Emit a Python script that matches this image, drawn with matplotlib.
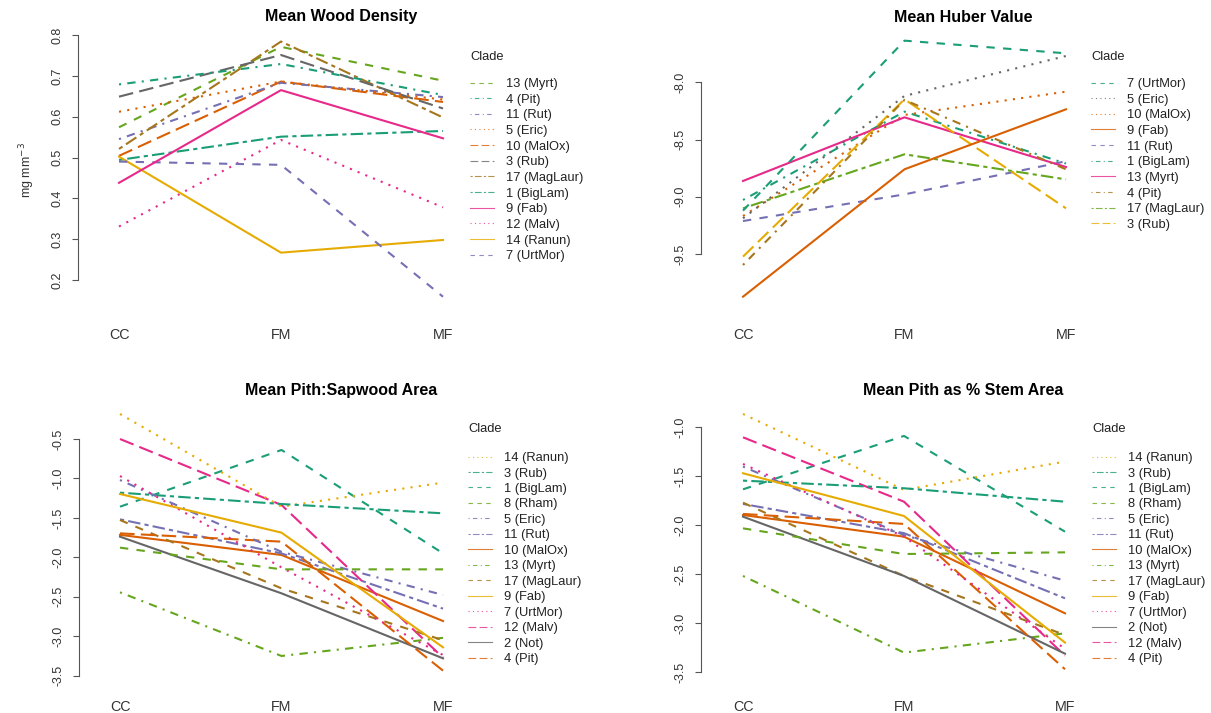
import matplotlib
matplotlib.use("Agg")
import matplotlib.pyplot as plt
from matplotlib.lines import Line2D

plt.rcParams['font.family'] = ['Liberation Sans', 'DejaVu Sans']

levels = ['CC', 'FM', 'MF']

# clade means at each site (CC, FM, MF)
wood_density = {
    '1 (BigLam)': [0.494, 0.551, 0.565],
    '10 (MalOx)': [0.504, 0.686, 0.636],
    '11 (Rut)': [0.545, 0.683, 0.648],
    '12 (Malv)': [0.331, 0.543, 0.378],
    '13 (Myrt)': [0.574, 0.771, 0.688],
    '14 (Ranun)': [0.502, 0.267, 0.298],
    '17 (MagLaur)': [0.521, 0.784, 0.598],
    '3 (Rub)': [0.649, 0.751, 0.620],
    '4 (Pit)': [0.679, 0.729, 0.653],
    '5 (Eric)': [0.612, 0.686, 0.642],
    '7 (UrtMor)': [0.490, 0.482, 0.159],
    '9 (Fab)': [0.438, 0.665, 0.547],
}

huber = {
    '1 (BigLam)': [-9.028, -8.256, -8.71],
    '10 (MalOx)': [-9.168, -8.285, -8.082],
    '11 (Rut)': [-9.212, -8.979, -8.69],
    '13 (Myrt)': [-8.862, -8.306, -8.74],
    '17 (MagLaur)': [-9.101, -8.629, -8.848],
    '3 (Rub)': [-9.523, -8.149, -9.101],
    '4 (Pit)': [-9.596, -8.154, -8.76],
    '5 (Eric)': [-9.188, -8.119, -7.770],
    '7 (UrtMor)': [-9.121, -7.636, -7.747],
    '9 (Fab)': [-9.873, -8.760, -8.236],
}

pith_sapwood = {
    '1 (BigLam)': [-1.358, -0.639, -1.949],
    '10 (MalOx)': [-1.715, -1.970, -2.807],
    '11 (Rut)': [-1.518, -1.95, -2.65],
    '12 (Malv)': [-0.500, -1.336, -3.271],
    '13 (Myrt)': [-2.443, -3.250, -3.02],
    '14 (Ranun)': [-0.183, -1.358, -1.053],
    '17 (MagLaur)': [-1.527, -2.393, -3.05],
    '2 (Not)': [-1.738, -2.456, -3.280],
    '3 (Rub)': [-1.180, -1.324, -1.442],
    '4 (Pit)': [-1.696, -1.801, -3.436],
    '5 (Eric)': [-1.020, -1.93, -2.477],
    '7 (UrtMor)': [-0.969, -2.127, -3.238],
    '8 (Rham)': [-1.877, -2.152, -2.152],
    '9 (Fab)': [-1.197, -1.687, -3.140],
}

pith_stem = {
    '1 (BigLam)': [-1.633, -1.088, -2.065],
    '10 (MalOx)': [-1.895, -2.116, -2.898],
    '11 (Rut)': [-1.782, -2.08, -2.745],
    '12 (Malv)': [-1.102, -1.759, -3.33],
    '13 (Myrt)': [-2.517, -3.299, -3.102],
    '14 (Ranun)': [-0.864, -1.639, -1.350],
    '17 (MagLaur)': [-1.769, -2.517, -3.119],
    '2 (Not)': [-1.912, -2.517, -3.31],
    '3 (Rub)': [-1.544, -1.622, -1.759],
    '4 (Pit)': [-1.884, -1.986, -3.469],
    '5 (Eric)': [-1.401, -2.10, -2.565],
    '7 (UrtMor)': [-1.374, -2.116, -3.26],
    '8 (Rham)': [-2.031, -2.293, -2.276],
    '9 (Fab)': [-1.469, -1.905, -3.197],
}

wd_ticks = [0.2, 0.3, 0.4, 0.5, 0.6, 0.7, 0.8]
hv_ticks = [-9.5, -9.0, -8.5, -8.0]
ps_ticks = [-3.5, -3.0, -2.5, -2.0, -1.5, -1.0, -0.5]
pst_ticks = [-3.5, -3.0, -2.5, -2.0, -1.5, -1.0]

# R Dark2 palette and lty 1..6
dark2 = ['#1B9E77', '#D95F02', '#7570B3', '#E7298A',
         '#66A61E', '#E6AB02', '#A6761D', '#666666']
r_lty = {1: '-', 2: (0, (4, 4)), 3: (0, (1, 3)), 4: (0, (1, 3, 4, 3)),
         5: (0, (7, 3)), 6: (0, (2, 2, 6, 2))}

W, H = 1211, 713
fig = plt.figure(figsize=(W / 100, H / 100), dpi=100)


def make_axes(left, right, top, bottom, x1px, x3px, yref):
    ax = fig.add_axes([left / W, 1 - bottom / H, (right - left) / W, (bottom - top) / H])
    ux = (x3px - x1px) / 2
    ax.set_xlim(1 - (x1px - left) / ux, 3 + (right - x3px) / ux)
    (va, pa), (vb, pb) = yref
    uy = (pb - pa) / (va - vb)
    ax.set_ylim(va - (bottom - pa) / uy, va + (pa - top) / uy)
    return ax


def interaction(ax, data, ticks, title, tpos, lpos, spacing):
    names = sorted(data)
    n = len(names)
    styles = {}
    for i, name in enumerate(names):
        lty = (n - i - 1) % 6 + 1
        styles[name] = (dark2[i % 8], r_lty[lty])
        ax.plot([1, 2, 3], data[name], color=dark2[i % 8], ls=r_lty[lty],
                lw=1.5, clip_on=False)
    # legend ordered by value at last level, like interaction.plot
    order = sorted(names, key=lambda k: data[k][-1], reverse=True)
    handles = [Line2D([], [], color=styles[k][0], ls=styles[k][1], lw=0.8, alpha=0.8)
               for k in order]
    lx, ly, first = lpos
    fig.text(lx / W, 1 - ly / H, 'Clade', ha='left', va='center', fontsize=9.3, color='#222222')
    ax.legend(handles, order, loc='upper left', bbox_to_anchor=(lx / W, 1 - (first - 5) / H),
              bbox_transform=fig.transFigure, frameon=False, fontsize=9.3,
              borderpad=0, borderaxespad=0, handlelength=1.85, handletextpad=0.9,
              labelspacing=spacing, labelcolor='#222222')
    for s in ['top', 'right', 'bottom']:
        ax.spines[s].set_visible(False)
    ax.spines['left'].set_bounds(ticks[0], ticks[-1])
    ax.spines['left'].set_color('#555555')
    ax.set_yticks(ticks, [f'{t:.1f}' for t in ticks], rotation=90, va='center')
    ax.tick_params(axis='y', length=4.5, pad=6, colors='#555555', labelcolor='#333333',
                   labelsize=9)
    ax.set_xticks([1, 2, 3], levels)
    ax.tick_params(axis='x', length=0, pad=6, labelsize=10.3, labelcolor='#333333')
    fig.text(tpos[0] / W, 1 - tpos[1] / H, title, ha='center', va='center',
             fontsize=11.5, fontweight='bold')


ax1 = make_axes(78, 600, 30, 320, 119, 443, ((0.8, 35), (0.2, 280)))
interaction(ax1, wood_density, wd_ticks, 'Mean Wood Density', (341, 17), (470, 57, 83), 0.28)
fig.text(27 / W, 1 - 170 / H, 'mg mm$^{-3}$', rotation=90, ha='center', va='center',
         fontsize=9, color='#333333')

ax2 = make_axes(701, 1205, 30, 320, 743, 1066, ((-8.0, 82.3), (-9.5, 254)))
interaction(ax2, huber, hv_ticks, 'Mean Huber Value', (963, 17), (1091, 57, 83), 0.28)

ax3 = make_axes(79, 600, 400, 692, 120, 443, ((-0.5, 439), (-3.5, 675.7)))
interaction(ax3, pith_sapwood, ps_ticks, 'Mean Pith:Sapwood Area', (341, 390), (468, 429, 457), 0.265)

ax4 = make_axes(701, 1205, 400, 692, 743, 1065, ((-1.0, 427.3), (-3.5, 672.3)))
interaction(ax4, pith_stem, pst_ticks, 'Mean Pith as % Stem Area', (963, 390), (1092, 429, 457), 0.265)

fig.savefig('out.png', dpi=100)
